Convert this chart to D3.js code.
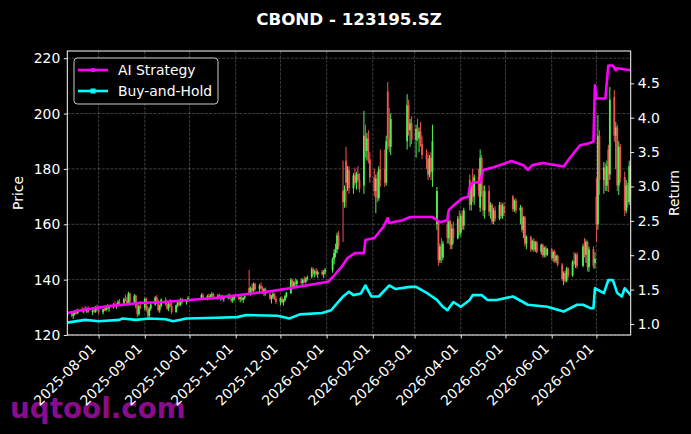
<!DOCTYPE html>
<html>
<head>
<meta charset="utf-8">
<script src="https://cdn.jsdelivr.net/npm/d3@7"></script>
<style>
body { margin: 0; background: #000; }
text { font-family: "DejaVu Sans", sans-serif; }
</style>
</head>
<body>
<div id="chart-vis"></div>
<script>
// trading days shown as candles
const candleDates = [
    "2025-07-11",
    "2025-07-14","2025-07-15","2025-07-16","2025-07-17","2025-07-18",
    "2025-07-21","2025-07-22","2025-07-23","2025-07-24","2025-07-25",
    "2025-07-28","2025-07-29","2025-07-30","2025-07-31","2025-08-01",
    "2025-08-04","2025-08-05","2025-08-06","2025-08-07","2025-08-08",
    "2025-08-11","2025-08-12","2025-08-13","2025-08-14","2025-08-15",
    "2025-08-18","2025-08-19","2025-08-20","2025-08-21","2025-08-22",
    "2025-08-25","2025-08-26","2025-08-27","2025-08-28","2025-08-29",
    "2025-09-01","2025-09-02","2025-09-03","2025-09-04","2025-09-05",
    "2025-09-08","2025-09-09","2025-09-10","2025-09-11","2025-09-12",
    "2025-09-15","2025-09-16","2025-09-17","2025-09-18","2025-09-19",
    "2025-09-22","2025-09-23","2025-09-24","2025-09-25","2025-09-26",
    "2025-09-29","2025-09-30",
    "2025-10-09","2025-10-10",
    "2025-10-13","2025-10-14","2025-10-15","2025-10-16","2025-10-17",
    "2025-10-20","2025-10-21","2025-10-22","2025-10-23","2025-10-24",
    "2025-10-27","2025-10-28","2025-10-29","2025-10-30","2025-10-31",
    "2025-11-03","2025-11-04","2025-11-05","2025-11-06","2025-11-07",
    "2025-11-10","2025-11-11","2025-11-12","2025-11-13","2025-11-14",
    "2025-11-17","2025-11-18","2025-11-19","2025-11-20","2025-11-21",
    "2025-11-24","2025-11-25","2025-11-26","2025-11-27","2025-11-28",
    "2025-12-01","2025-12-02","2025-12-03","2025-12-04","2025-12-05",
    "2025-12-08","2025-12-09","2025-12-10","2025-12-11","2025-12-12",
    "2025-12-15","2025-12-16","2025-12-17","2025-12-18","2025-12-19",
    "2025-12-22","2025-12-23","2025-12-24","2025-12-25","2025-12-26",
    "2025-12-29","2025-12-30","2025-12-31",
    "2026-01-05","2026-01-06","2026-01-07","2026-01-08","2026-01-09",
    "2026-01-12","2026-01-13","2026-01-14","2026-01-15","2026-01-16",
    "2026-01-19","2026-01-20","2026-01-21","2026-01-22","2026-01-23",
    "2026-01-26","2026-01-27","2026-01-28","2026-01-29","2026-01-30",
    "2026-02-02","2026-02-03","2026-02-04","2026-02-05","2026-02-06",
    "2026-02-09","2026-02-10","2026-02-11","2026-02-12","2026-02-13",
    "2026-02-24","2026-02-25","2026-02-26","2026-02-27",
    "2026-03-02","2026-03-03","2026-03-04","2026-03-05","2026-03-06",
    "2026-03-09","2026-03-10","2026-03-11","2026-03-12","2026-03-13",
    "2026-03-16","2026-03-17","2026-03-18","2026-03-19","2026-03-20",
    "2026-03-23","2026-03-24","2026-03-25","2026-03-26","2026-03-27",
    "2026-03-30","2026-03-31","2026-04-01","2026-04-02","2026-04-03",
    "2026-04-07","2026-04-08","2026-04-09","2026-04-10",
    "2026-04-13","2026-04-14","2026-04-15","2026-04-16","2026-04-17",
    "2026-04-20","2026-04-21","2026-04-22","2026-04-23","2026-04-24",
    "2026-04-27","2026-04-28","2026-04-29","2026-04-30",
    "2026-05-06","2026-05-07","2026-05-08",
    "2026-05-11","2026-05-12","2026-05-13","2026-05-14","2026-05-15",
    "2026-05-18","2026-05-19","2026-05-20","2026-05-21","2026-05-22",
    "2026-05-25","2026-05-26","2026-05-27","2026-05-28","2026-05-29",
    "2026-06-01","2026-06-02","2026-06-03","2026-06-04","2026-06-05",
    "2026-06-08","2026-06-09","2026-06-10","2026-06-11","2026-06-12",
    "2026-06-15","2026-06-16","2026-06-17","2026-06-18",
    "2026-06-22","2026-06-23","2026-06-24","2026-06-25","2026-06-26",
    "2026-06-29","2026-06-30","2026-07-01","2026-07-02","2026-07-03",
    "2026-07-06","2026-07-07","2026-07-08","2026-07-09","2026-07-10",
    "2026-07-13","2026-07-14","2026-07-15","2026-07-16","2026-07-17",
    "2026-07-20","2026-07-21","2026-07-22","2026-07-23","2026-07-24"
];

// [open, high, low, close] for each date above
const candleOHLC = [
    [127,128.5,126,127.8],
    [127.8,128.6,126.5,127],[127,128,125.8,127.6],[127.6,129,127,128.5],[128.5,129.2,127.4,127.9],[127.9,129.5,127.5,129],
    [129,130.2,128.2,128.6],[128.6,129.6,127.8,129.2],[129.2,130.5,128.5,128.9],[128.9,130,128,129.6],[129.6,130.4,127.9,128.3],
    [128.3,129.5,127.2,128.9],[128.9,129.8,128,128.4],[128.4,130.5,128,130],[130,131,128.8,129.2],[129.2,130.2,127.5,128.2],
    [128.2,129.6,127.4,129.3],[129.3,130.4,128.6,129],[129,130.8,128.5,130.4],[130.4,131.2,129.2,129.6],[129.6,130.5,128.4,130.1],
    [130.1,131.5,129.6,131],[131,132.2,130.2,130.6],[130.6,131.4,129.5,131.2],[131.2,132.6,130.5,132],[132,133,131,131.5],
    [131.5,133.5,131,133],[133,134.6,132.2,132.5],[132.5,133.8,130.8,131.4],[131.4,135.6,131,135],[135,135.3,131.5,132],
    [132,134.8,131.2,134.2],[134.2,134.6,129.5,130],[130,131.2,126.5,127.5],[127.5,131,127,130.5],[130.5,132.3,129.4,129.8],
    [129.8,133.5,129,133],[133,133.6,128.5,129],[129,130.5,126,127],[127,130,126.5,129.6],[129.6,131.5,128.8,131],
    [131,134,130.5,133.6],[133.6,134.4,131.2,131.8],[131.8,132.8,128.4,129],[129,131,128,130.6],[130.6,133.2,130,132.8],
    [132.8,133.6,130.5,131],[131,132.3,129,129.6],[129.6,131.6,128.6,131.3],[131.3,133,130.2,130.5],[130.5,131.8,127.5,128.3],
    [128.3,131,128,130.7],[130.7,132.5,130,132],[132,132.8,130.4,130.9],[130.9,133.3,130.5,133],[133,133.5,131.2,131.8],
    [131.8,133,131,132.6],[132.6,134,132,133.4],
    [133.4,135,132.8,134.4],[134.4,135.2,133,133.5],
    [133.5,134.6,132.5,134],[134,135,133.2,133.6],[133.6,134.8,132.8,134.3],[134.3,135.5,133.6,134.8],[134.8,135.2,133.2,133.7],
    [133.7,134.8,132.8,134.2],[134.2,135,133,133.4],[133.4,134.5,132.4,133.9],[133.9,134.6,132.6,133.1],[133.1,134.2,132,133.6],
    [133.6,134.8,132.8,134.4],[134.4,135,133,133.2],[133.2,134,131.8,132.5],[132.5,133.8,131.6,133.2],[133.2,134.4,132.4,133.8],
    [133.8,134.5,132.6,133],[133,134,131.8,133.5],[133.5,134.3,132.2,132.7],[132.7,133.8,131.5,133.4],[133.4,134.6,132.8,134],
    [137,143.5,134.5,135],[135,137.5,134.2,137],[137,138.6,135.5,136],[136,139,135.6,138.4],[138.4,138.9,136,136.6],
    [136.6,138.4,135.2,137.8],[137.8,139,136.4,136.9],[136.9,137.6,134.8,135.5],[135.5,137,134,136.5],[136.5,137.2,134.2,134.8],
    [134.8,135.6,132.6,133.2],[133.2,134.4,131.4,133.8],[133.8,135.5,133,134.8],[134.8,135.2,132.6,133],[133,134,131.2,132],
    [132,133.6,130.8,133.2],[133.2,134,131.4,131.8],[131.8,133,130.6,132.6],[132.6,134.4,132,134],[134,135.6,133.4,135.2],
    [135.2,140.6,134.8,139.8],[139.8,140.2,136.5,137.5],[137.5,139.5,136.8,139],[139,140.5,137.8,138.4],[138.4,140,137.4,139.6],
    [139.6,140.6,138.2,138.8],[138.8,140.4,137.8,140],[140,141.2,138.8,139.2],[139.2,140.8,138.5,140.4],[140.4,141.5,139.6,140.9],
    [140.9,144.5,140.4,143.8],[143.8,144.4,141.6,142.2],[142.2,143.6,140.8,143],[143,144.2,141.5,141.9],[141.9,143.4,140.6,142.8],
    [142.8,143.6,141.4,142],[142,143.4,140.6,142.9],[142.9,144.2,141.8,143.6],
    [143.6,148,142.5,147.4],[147.4,151,145.5,149.6],[149.6,153,148,150.8],[150.8,157,149.5,156],[156,157.6,151,152.2],
    [172,183,153.6,168],[168,174,166,172.5],[183,188,166,175],[175,181,172,179.5],[179.5,181,171,173],
    [173,178.5,171,177.6],[177.6,180.5,174,175],[175,179,172.5,178.2],[178.2,181,175.5,176],[176,178.4,171.5,172.8],
    [174,201,171,192],[192,196,184,186.5],[186.5,193,183,191],[191,194,182,183.5],[183.5,186,175,177],
    [177,180,170,172],[172,178,164,176.5],[176.5,179,168,169.5],[169.5,181,168.5,179.8],[179.8,187,173.5,176],
    [180,187,173.5,175],[175,192,174,190],[208,211.4,187,191],[191,202,186,188],[188,200,185,198],
    [190,207,187,203],[203,205,192,194],[194,198,188,196.5],[196.5,199,189,190.5],
    [190.5,196,184,194.5],[194.5,198,190,191],[191,195,186,193.5],[193.5,197,188,189],[189,192,183.5,185],
    [185,187,180,183.5],[183.5,186,176,178],[178,185,177,184],[184,186,176,179],[179,196,173.5,190],
    [160,173.5,158,172],[160.5,161,145,147],[147,153,146,152],[152,155,146,148],[148,154,147,153],
    [160,164,153,155],[155,162,153,161],[161,161.5,151,152.5],[152.5,160,151,158.5],[158.5,161,153,155],
    [155,163,154.5,162],[162,165,156,157],[157,164,155.5,163],[163,165,158,159.5],[159.5,166,158,165],
    [176,178,165,167],[167,175,165,174],[174,180,168,170],[170,178,167,177],
    [177,180,170,172],[166,187,164.5,184],[184,185,170,172],[172,174,163,165],[165,174,162,172],
    [172,174,163,164.5],[164.5,168,162,167],[167,167.5,160,161],[161,166,160,165],[165,166.5,161,162],
    [162,168,161.5,167],[167,168,162,163],[163,167.5,162,166.5],[166.5,168,163,164],
    [170,170.6,164.5,165.5],[165.5,169,164.5,168.5],[168.5,169.5,164,165],
    [165,167,160,166],[166,166.5,157,158],[158,163,155,162.5],[162.5,163,152,153],[153,156,151,155.5],
    [155.5,155.8,150,151],[151,154.5,150.5,154],[154,155,150,150.8],[150.8,154,150,153.5],[153.5,154,149.5,150],
    [150,153,149,152.6],[152.6,153,148,148.8],[148.8,152,148,151.5],[151.5,152.3,148,149],[149,151.5,148.5,151],
    [151,151.5,147,147.8],[147.8,150.5,146.5,150],[150,150.8,146,146.8],[146.8,149,146,148.6],[148.6,149,144.8,145.4],
    [145.4,146,139.5,140.2],[140.2,143,138,142.4],[142.4,143.2,139,139.6],[139.6,144.6,139,144],[144,144.5,140.5,141.5],
    [141.5,147,141,146.5],[146.5,150,145,145.8],[145.8,149.5,144.2,149],[149,149.8,144,145],
    [145,153,144.5,152],[152,155,148,149],[149,154.5,146,153.6],[153.6,154,143,144.5],[144.5,152,142.8,151],
    [151,152,144,145],[146,150,144,147.5],[170,176.7,153.6,160],[160,199.5,158,192],[192,194,170.6,176],
    [176,182.5,171,180.5],[180.5,182,172,174],[174,183,172,181],[187,188.7,171.7,178],[178,209.6,176,205],
    [206,208.5,189.8,192],[192,197,180,195],[195,196,172,174],[174,190,170.6,188],[188,189,175,177],
    [177,179,163,165],[165,176,164,174],[174,175,166,168],[168,183,167,181],[181,182,170,176]
];

// AI Strategy cumulative return (right axis)
const aiDates = [
    "2025-07-11","2025-07-23","2025-08-08","2025-08-28","2025-09-14","2025-10-01","2025-10-19",
    "2025-11-06","2025-11-22","2025-12-07","2025-12-21","2026-01-02","2026-01-05","2026-01-11",
    "2026-01-15","2026-01-20","2026-01-26","2026-01-27","2026-02-02","2026-02-08","2026-02-11",
    "2026-02-12","2026-02-21","2026-02-26","2026-03-13","2026-03-18","2026-03-23","2026-03-24",
    "2026-03-29","2026-04-02","2026-04-06","2026-04-07","2026-04-09","2026-04-14","2026-04-16",
    "2026-04-23","2026-05-05","2026-05-13","2026-05-16","2026-05-19","2026-05-26","2026-06-09",
    "2026-06-13","2026-06-20","2026-06-26","2026-06-29","2026-06-30","2026-07-01","2026-07-07",
    "2026-07-09","2026-07-12","2026-07-14","2026-07-15","2026-07-24"
];
const aiReturn = [
    1.16,1.21,1.26,1.305,1.32,1.35,1.38,
    1.43,1.47,1.52,1.57,1.615,1.68,1.83,
    1.96,2.03,2.03,2.22,2.25,2.41,2.54,
    2.47,2.51,2.555,2.555,2.48,2.51,2.66,
    2.76,2.83,2.85,2.99,3.06,3.06,3.24,
    3.28,3.37,3.31,3.24,3.31,3.34,3.29,
    3.41,3.60,3.63,3.65,4.47,4.28,4.28,
    4.76,4.76,4.69,4.72,4.69
];

// Buy-and-Hold cumulative return (right axis)
const bhDates = [
    "2025-07-11","2025-07-23","2025-08-01","2025-08-15","2025-08-17","2025-08-26","2025-09-04",
    "2025-09-15","2025-09-20","2025-09-29","2025-10-19","2025-11-02","2025-11-08","2025-11-29",
    "2025-12-07","2025-12-14","2025-12-29","2026-01-04","2026-01-10","2026-01-12","2026-01-16",
    "2026-01-19","2026-01-24","2026-01-27","2026-01-31","2026-02-05","2026-02-12","2026-02-16",
    "2026-02-26","2026-03-02","2026-03-10","2026-03-16","2026-03-20","2026-03-23","2026-03-27",
    "2026-04-01","2026-04-07","2026-04-09","2026-04-15","2026-04-19","2026-04-25","2026-05-06",
    "2026-05-16","2026-05-29","2026-06-09","2026-06-18","2026-06-22","2026-06-27","2026-06-29",
    "2026-06-30","2026-07-06","2026-07-09","2026-07-12","2026-07-15","2026-07-18","2026-07-20",
    "2026-07-24"
];
const bhReturn = [
    1.02,1.06,1.04,1.06,1.08,1.06,1.08,
    1.07,1.04,1.08,1.09,1.10,1.13,1.12,
    1.08,1.14,1.16,1.20,1.35,1.40,1.47,
    1.42,1.445,1.56,1.40,1.40,1.56,1.51,
    1.54,1.54,1.44,1.35,1.25,1.20,1.32,
    1.25,1.35,1.42,1.42,1.35,1.35,1.40,
    1.28,1.25,1.18,1.28,1.28,1.23,1.23,
    1.52,1.45,1.64,1.64,1.45,1.40,1.52,
    1.42
];

const priceTicks = [120, 140, 160, 180, 200, 220];
const returnTicks = [1.0, 1.5, 2.0, 2.5, 3.0, 3.5, 4.0, 4.5];
const monthTicks = ["2025-08-01","2025-09-01","2025-10-01","2025-11-01","2025-12-01","2026-01-01",
    "2026-02-01","2026-03-01","2026-04-01","2026-05-01","2026-06-01","2026-07-01"];
const seriesNames = ["AI Strategy", "Buy-and-Hold"];

/**
 * Constructor for the candle + return chart
 */
function CandleChart(){
    let self = this;
    self.init();
};

/**
 * Sets up the svg, scales and axes
 */
CandleChart.prototype.init = function(){
    let self = this;
    self.width = 691;
    self.height = 434;
    self.plot = {left: 67.3, right: 630.7, top: 51, bottom: 335};

    self.svg = d3.select("#chart-vis").append("svg")
        .attr("width", self.width)
        .attr("height", self.height)
        .style("display", "block")
        .style("background", "#000");

    const parse = d3.timeParse("%Y-%m-%d");
    self.parse = parse;

    self.x = d3.scaleTime()
        .domain([parse("2025-07-11"), parse("2026-07-24")])
        .range([self.plot.left, self.plot.right]);
    self.yPrice = d3.scaleLinear()
        .domain([120, 222.6])
        .range([self.plot.bottom, self.plot.top]);
    self.yRet = d3.scaleLinear()
        .domain([0.84, 4.97])
        .range([self.plot.bottom, self.plot.top]);

    self.svg.append("clipPath").attr("id", "plot-clip")
        .append("rect")
        .attr("x", self.plot.left)
        .attr("y", self.plot.top)
        .attr("width", self.plot.right - self.plot.left)
        .attr("height", self.plot.bottom - self.plot.top);

    self.update();
};

/**
 * Draws everything
 */
CandleChart.prototype.update = function(){
    let self = this;
    const parse = self.parse;
    const p = self.plot;

    // watermark sits under the tick labels
    self.svg.append("text")
        .attr("x", 10).attr("y", 418)
        .attr("fill", "#8a0c8a")
        .style("font-size", "27.8px")
        .style("font-weight", "bold")
        .text("uqtool.com");

    // grid
    let grid = self.svg.append("g").attr("class", "grid");
    grid.selectAll(".vgrid").data(monthTicks).enter()
        .append("line")
        .attr("x1", d => self.x(parse(d)))
        .attr("x2", d => self.x(parse(d)))
        .attr("y1", p.top).attr("y2", p.bottom);
    grid.selectAll(".hgrid").data(priceTicks).enter()
        .append("line")
        .attr("x1", p.left).attr("x2", p.right)
        .attr("y1", d => self.yPrice(d))
        .attr("y2", d => self.yPrice(d));
    grid.selectAll("line")
        .attr("stroke", "rgba(255,255,255,0.3)")
        .attr("stroke-width", 0.8)
        .attr("stroke-dasharray", "3,1.3");

    // candles
    const candles = candleDates.map(function(d, i){
        const v = candleOHLC[i];
        return {date: parse(d), open: v[0], high: v[1], low: v[2], close: v[3]};
    });
    const colour = function(d) { return d.close >= d.open ? "#52f152" : "#f05252"; };

    let cg = self.svg.append("g").attr("clip-path", "url(#plot-clip)");
    cg.selectAll(".wick").data(candles).enter()
        .append("line")
        .attr("x1", d => self.x(d.date))
        .attr("x2", d => self.x(d.date))
        .attr("y1", d => self.yPrice(d.high))
        .attr("y2", d => self.yPrice(d.low))
        .attr("stroke", colour)
        .attr("stroke-width", 1);
    cg.selectAll(".body").data(candles).enter()
        .append("rect")
        .attr("x", d => self.x(d.date) - 0.9)
        .attr("width", 1.8)
        .attr("y", d => self.yPrice(Math.max(d.open, d.close)))
        .attr("height", d => Math.max(0.8, Math.abs(self.yPrice(d.open) - self.yPrice(d.close))))
        .attr("fill", colour);

    // return lines
    const line = d3.line()
        .x(d => self.x(d.date))
        .y(d => self.yRet(d.value));
    const aiData = aiDates.map((d, i) => ({date: parse(d), value: aiReturn[i]}));
    const bhData = bhDates.map((d, i) => ({date: parse(d), value: bhReturn[i]}));

    cg.append("path").datum(bhData)
        .attr("d", line)
        .attr("fill", "none")
        .attr("stroke", "#00ffff")
        .attr("stroke-width", 2.6)
        .attr("stroke-linejoin", "round");
    cg.append("path").datum(aiData)
        .attr("d", line)
        .attr("fill", "none")
        .attr("stroke", "#ff00ff")
        .attr("stroke-width", 2.6)
        .attr("stroke-linejoin", "round");

    // axes
    const fontSize = "13.9px";
    let left = self.svg.append("g")
        .attr("transform", "translate(" + p.left + ",0)")
        .call(d3.axisLeft(self.yPrice).tickValues(priceTicks).tickSize(3.5).tickPadding(3.5).tickSizeOuter(0));
    let right = self.svg.append("g")
        .attr("transform", "translate(" + p.right + ",0)")
        .call(d3.axisRight(self.yRet).tickValues(returnTicks).tickFormat(d3.format(".1f"))
            .tickSize(3.5).tickPadding(3.5).tickSizeOuter(0));
    let bottom = self.svg.append("g")
        .attr("transform", "translate(0," + p.bottom + ")")
        .call(d3.axisBottom(self.x).tickValues(monthTicks.map(parse))
            .tickFormat(d3.timeFormat("%Y-%m-%d")).tickSize(3.5).tickSizeOuter(0));

    bottom.selectAll("text")
        .attr("y", 0).attr("x", 0).attr("dy", null)
        .attr("text-anchor", "end")
        .attr("transform", "translate(-2.3,14.5) rotate(-45)");

    [left, right, bottom].forEach(function(a){
        a.select(".domain").remove();
        a.selectAll("line").attr("stroke", "#fff").attr("stroke-width", 0.9);
        a.selectAll("text")
            .attr("fill", "#fff")
            .style("font-size", fontSize)
            .style("font-family", "'DejaVu Sans', sans-serif");
    });

    // spines
    self.svg.append("rect")
        .attr("x", p.left).attr("y", p.top)
        .attr("width", p.right - p.left)
        .attr("height", p.bottom - p.top)
        .attr("fill", "none")
        .attr("stroke", "#fff")
        .attr("stroke-width", 1);

    // axis titles
    self.svg.append("text")
        .attr("transform", "translate(23,193) rotate(-90)")
        .attr("text-anchor", "middle")
        .attr("fill", "#fff")
        .style("font-size", fontSize)
        .text("Price");
    self.svg.append("text")
        .attr("transform", "translate(679,193) rotate(-90)")
        .attr("text-anchor", "middle")
        .attr("fill", "#fff")
        .style("font-size", fontSize)
        .text("Return");

    // title
    self.svg.append("text")
        .attr("x", (p.left + p.right) / 2)
        .attr("y", 24.5)
        .attr("text-anchor", "middle")
        .attr("fill", "#fff")
        .style("font-size", "16.7px")
        .style("font-weight", "bold")
        .text("CBOND - 123195.SZ");

    // legend
    let legend = self.svg.append("g").attr("transform", "translate(74,58)");
    legend.append("rect")
        .attr("width", 144).attr("height", 46)
        .attr("rx", 3.5)
        .attr("fill", "rgba(0,0,0,0.8)")
        .attr("stroke", "#cccccc")
        .attr("stroke-width", 1);
    const legendColours = ["#ff00ff", "#00ffff"];
    seriesNames.forEach(function(name, i){
        const yy = 12 + i * 21;
        legend.append("line")
            .attr("x1", 4).attr("x2", 34)
            .attr("y1", yy).attr("y2", yy)
            .attr("stroke", legendColours[i])
            .attr("stroke-width", 2.6);
        if (i == 0) {
            legend.append("circle")
                .attr("cx", 19).attr("cy", yy).attr("r", 2.3)
                .attr("fill", legendColours[i]);
        }
        else {
            legend.append("rect")
                .attr("x", 16.5).attr("y", yy - 2.5)
                .attr("width", 5).attr("height", 5)
                .attr("fill", legendColours[i]);
        }
        legend.append("text")
            .attr("x", 44).attr("y", yy + 5)
            .attr("fill", "#fff")
            .style("font-size", fontSize)
            .text(name);
    });
};

new CandleChart();
</script>
</body>
</html>
